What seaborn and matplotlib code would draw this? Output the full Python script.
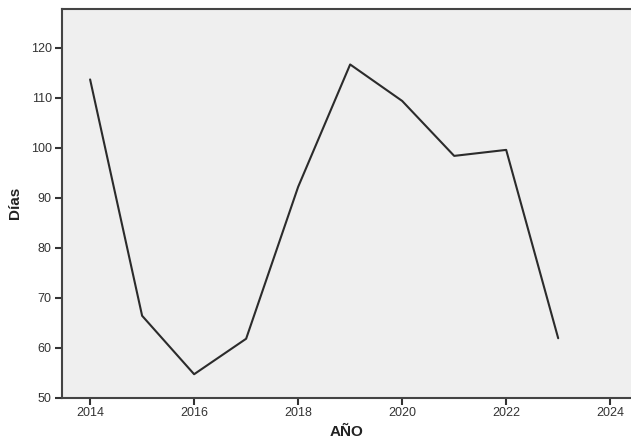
import matplotlib
matplotlib.use("Agg")
import matplotlib.pyplot as plt
import seaborn as sns
import pandas as pd

years = [2014, 2015, 2016, 2017, 2018, 2019, 2020, 2021, 2022, 2023]
dias = [113.7, 66.4, 54.7, 61.8, 92.2, 116.7, 109.4, 98.4, 99.6, 61.9]
x_ticks = [2014, 2016, 2018, 2020, 2022, 2024]
y_ticks = [50, 60, 70, 80, 90, 100, 110, 120]

sns.set_style("ticks")
plt.rcParams['font.family'] = ['Liberation Sans', 'DejaVu Sans']

df = pd.DataFrame({"AÑO": years, "Días": dias})

fig = plt.figure(figsize=(6.31, 4.40), dpi=100)
ax = fig.add_axes([61.5 / 631, 1 - 397.7 / 440, (631 - 61.5) / 631, (397.7 - 9) / 440])
ax.set_facecolor("#efefef")

sns.lineplot(data=df, x="AÑO", y="Días", ax=ax, color="#2b2b2b", linewidth=1.5)

ax.set_xlim(2013.45, 2024.4)
ax.set_ylim(50, 127.8)
ax.set_xticks(x_ticks)
ax.set_yticks(y_ticks)
ax.tick_params(axis="both", direction="out", length=5, width=1.5, color="#333333",
               labelsize=9, labelcolor="#333333", pad=2)
for s in ["left", "bottom", "top"]:
    ax.spines[s].set_color("#444444")
    ax.spines[s].set_linewidth(1.5)
ax.spines["right"].set_visible(False)

ax.set_xlabel("AÑO", fontsize=11, fontweight="bold", color="#222222", labelpad=4)
ax.set_ylabel("Días", fontsize=11, fontweight="bold", color="#222222", labelpad=6)

fig.savefig("out.png", dpi=100, facecolor="white")
